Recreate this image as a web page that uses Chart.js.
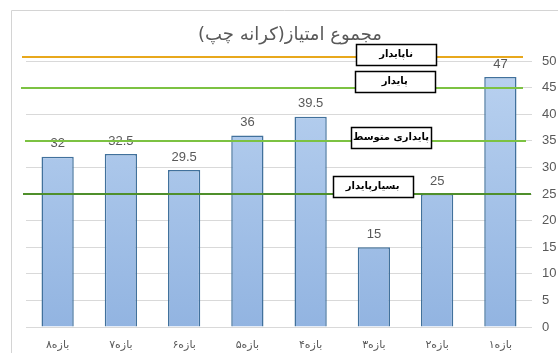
<!DOCTYPE html>
<html>
<head>
<meta charset="utf-8">
<script src="https://cdn.jsdelivr.net/npm/chart.js@4/dist/chart.umd.min.js"></script>
<style>
  html, body { margin: 0; padding: 0; background: #fff; }
  #wrap { width: 558px; height: 353px; }
</style>
</head>
<body>
<div id="wrap"><canvas id="chart" width="558" height="353"></canvas></div>
<script>
// periods, shown right to left (بازه۱ at the right)
const periods = ['بازه۸', 'بازه۷', 'بازه۶', 'بازه۵', 'بازه۴', 'بازه۳', 'بازه۲', 'بازه۱'];
const scores = [32, 32.5, 29.5, 36, 39.5, 15, 25, 47];
const yTicks = [0, 5, 10, 15, 20, 25, 30, 35, 40, 45, 50];

// stability thresholds and their captions
const thresholds = [50.7, 45, 35, 25];
const thresholdNames = ['ناپایدار', 'پایدار', 'پایداری متوسط', 'بسیارپایدار'];
const nameValues = [51.3, 46.2, 35.7, 26.4];
const nameSlots = [5.35, 5.33, 5.27, 4.98];

const chartTitle = 'مجموع امتیاز(کرانه چپ)';

const lineColors = ['#e8a81c', '#7cc242', '#7cc242', '#4f8f2b'];
const lineStart = [-4, -5, -1, -3];
const lineEnd = [-9, -9, -6, -1];

const frame = {
  id: 'frame',
  beforeDraw(chart) {
    const ctx = chart.ctx;
    ctx.save();
    ctx.strokeStyle = '#d4d4d4';
    ctx.lineWidth = 1;
    ctx.beginPath();
    ctx.moveTo(11.5, 353);
    ctx.lineTo(11.5, 10.5);
    ctx.lineTo(558, 10.5);
    ctx.stroke();
    ctx.restore();
  }
};

const overlay = {
  id: 'overlay',
  afterDatasetsDraw(chart) {
    const ctx = chart.ctx;
    const area = chart.chartArea;
    const x = chart.scales.x;
    const y = chart.scales.y;
    ctx.save();

    // value labels above bars
    ctx.font = '13px "Liberation Sans", Arial, sans-serif';
    ctx.fillStyle = '#595959';
    ctx.textAlign = 'center';
    ctx.textBaseline = 'middle';
    chart.getDatasetMeta(0).data.forEach((bar, i) => {
      ctx.fillText(String(scores[i]), bar.x, bar.y - 13);
    });

    // threshold lines
    thresholds.forEach((v, i) => {
      const py = Math.round(y.getPixelForValue(v));
      ctx.strokeStyle = lineColors[i];
      ctx.lineWidth = 2;
      ctx.beginPath();
      ctx.moveTo(area.left + lineStart[i], py);
      ctx.lineTo(area.right + lineEnd[i], py);
      ctx.stroke();
    });

    // captions in boxes
    ctx.direction = 'rtl';
    ctx.font = 'bold 10px "DejaVu Sans", sans-serif';
    thresholdNames.forEach((t, i) => {
      const cx = x.getPixelForValue(nameSlots[i]);
      const cy = y.getPixelForValue(nameValues[i]);
      const w = 80, h = 21;
      const bx = Math.round(cx - w / 2) + 0.5;
      const by = Math.round(cy - h / 2) + 0.5;
      ctx.fillStyle = '#ffffff';
      ctx.fillRect(bx, by, w, h);
      ctx.strokeStyle = '#000000';
      ctx.lineWidth = 1.5;
      ctx.strokeRect(bx, by, w, h);
      ctx.fillStyle = '#000000';
      ctx.fillText(t, cx, cy);
    });

    // title
    ctx.font = '18px "DejaVu Sans", sans-serif';
    ctx.fillStyle = '#595959';
    ctx.fillText(chartTitle, (area.left + area.right) / 2 + 11, 35);
    ctx.restore();
  }
};

new Chart(document.getElementById('chart'), {
  type: 'bar',
  data: {
    labels: periods,
    datasets: [{
      data: scores,
      backgroundColor(c) {
        const area = c.chart.chartArea;
        if (!area) return '#a7c4ea';
        const g = c.chart.ctx.createLinearGradient(0, area.top, 0, area.bottom);
        g.addColorStop(0, '#bad2f0');
        g.addColorStop(1, '#92b4e1');
        return g;
      },
      borderColor: '#41719c',
      borderWidth: 1.5,
      barPercentage: 0.51,
      categoryPercentage: 1
    }]
  },
  options: {
    responsive: false,
    animation: false,
    layout: { padding: { left: 26, top: 61, right: 0, bottom: 0 } },
    plugins: { legend: { display: false }, tooltip: { enabled: false }, title: { display: false } },
    scales: {
      x: {
        offset: true,
        grid: { display: false },
        border: { display: false },
        ticks: {
          color: '#595959',
          font: { family: '"DejaVu Sans", sans-serif', size: 11 },
          padding: 4,
          maxRotation: 0
        },
        afterFit(s) { s.height = 26; }
      },
      y: {
        position: 'right',
        min: 0,
        max: 50,
        afterBuildTicks(s) { s.ticks = yTicks.map(v => ({ value: v })); },
        grid: { color: '#d9d9d9', lineWidth: 1, tickLength: 0 },
        border: { display: false },
        ticks: {
          color: '#595959',
          font: { family: '"Liberation Sans", Arial, sans-serif', size: 13 },
          padding: 10,
          align: 'center'
        },
        afterFit(s) { s.width = 26; }
      }
    }
  },
  plugins: [frame, overlay]
});
</script>
</body>
</html>
